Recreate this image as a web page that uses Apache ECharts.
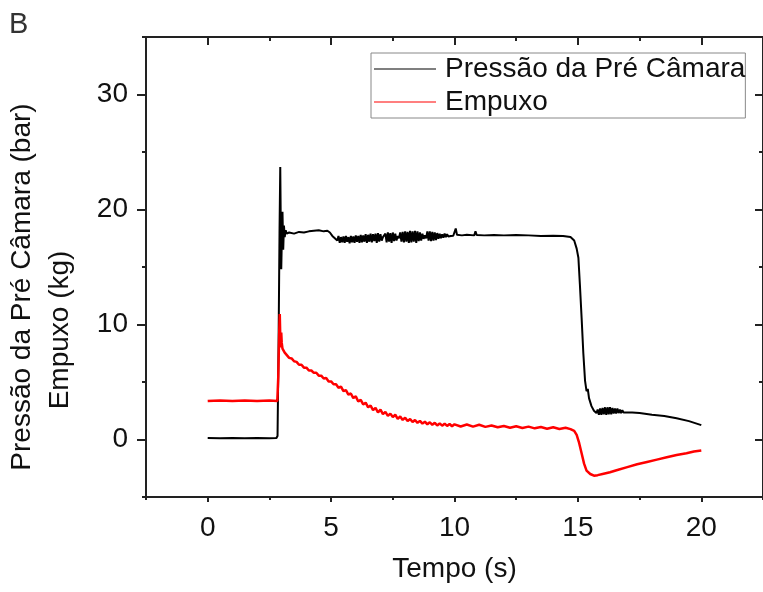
<!DOCTYPE html>
<html>
<head>
<meta charset="utf-8">
<script src="https://cdn.jsdelivr.net/npm/echarts@6/dist/echarts.min.js"></script>
<style>
  html, body { margin: 0; padding: 0; background: #fff; }
  #chart { width: 763px; height: 592px; }
</style>
</head>
<body>
<div id="chart"></div>
<script>
// Tick positions
const xMajorTicks = [0, 5, 10, 15, 20];
const xMinorTicks = [-2.5, 2.5, 7.5, 12.5, 17.5, 22.5];
const yMajorTicks = [0, 10, 20, 30];
const yMinorTicks = [-5, 5, 15, 25, 35];

// Pré-câmara pressure (bar) vs time (s)
const pressao = [
  [0, 0.12], [0.5, 0.1], [1, 0.12], [1.5, 0.1], [2, 0.12], [2.5, 0.1], [2.78, 0.12],
  [2.83, 0.3], [2.87, 8], [2.91, 18], [2.94, 23.7], [2.96, 19], [2.98, 14.8], [3.0, 17],
  [3.03, 19.8], [3.06, 16.5], [3.09, 18.6], [3.12, 17.6], [3.16, 18.2], [3.2, 17.9],
  [3.3, 18.0], [3.5, 17.9], [3.7, 18.05], [3.9, 18.0], [4.1, 18.1], [4.3, 18.15],
  [4.5, 18.2], [4.7, 18.1], [4.85, 18.15], [4.95, 18.0], [5.05, 17.7], [5.15, 17.5],
  [5.25, 17.3],
  [5.30, 17.7], [5.35, 17.1], [5.40, 17.6], [5.45, 17.15], [5.50, 17.65], [5.55, 17.1],
  [5.60, 17.7], [5.65, 17.2], [5.70, 17.6], [5.75, 17.05], [5.80, 17.7], [5.85, 17.15],
  [5.90, 17.65], [5.95, 17.1], [6.00, 17.75], [6.05, 17.2], [6.10, 17.7], [6.15, 17.1],
  [6.20, 17.8], [6.25, 17.15], [6.30, 17.75], [6.35, 17.2], [6.40, 17.85], [6.45, 17.1],
  [6.50, 17.8], [6.55, 17.2], [6.60, 17.9], [6.65, 17.15], [6.70, 17.85], [6.75, 17.25],
  [6.80, 17.9], [6.85, 17.1], [6.90, 17.95], [6.95, 17.2], [7.00, 17.85], [7.05, 17.3],
  [7.10, 17.6], [7.15, 17.45], [7.20, 17.9], [7.25, 17.15], [7.30, 18.0], [7.35, 17.2],
  [7.40, 17.95], [7.45, 17.1], [7.50, 18.0], [7.55, 17.25], [7.60, 17.9], [7.65, 17.3],
  [7.70, 17.7], [7.75, 17.5], [7.80, 18.0], [7.85, 17.2], [7.90, 18.05], [7.95, 17.15],
  [8.00, 18.1], [8.05, 17.2], [8.10, 18.05], [8.15, 17.1], [8.20, 18.15], [8.25, 17.15],
  [8.30, 18.1], [8.35, 17.2], [8.40, 18.15], [8.45, 17.1], [8.50, 18.1], [8.55, 17.25],
  [8.60, 18.0], [8.65, 17.3], [8.70, 17.9], [8.75, 17.45], [8.80, 17.75], [8.85, 17.5],
  [8.90, 18.1], [8.95, 17.3], [9.00, 18.1], [9.05, 17.25], [9.10, 18.05], [9.15, 17.3],
  [9.20, 18.0], [9.25, 17.35], [9.30, 17.95], [9.35, 17.45], [9.40, 17.9], [9.45, 17.5],
  [9.50, 17.85], [9.55, 17.55], [9.60, 17.9], [9.65, 17.6], [9.70, 17.85], [9.75, 17.65],
  [9.80, 17.8], [9.85, 17.7], [9.90, 17.8], [9.95, 17.72],
  [10.0, 17.78], [10.05, 18.35], [10.1, 17.8], [10.3, 17.75], [10.5, 17.8], [10.8, 17.75],
  [10.85, 18.1], [10.9, 17.78], [11.2, 17.75], [11.6, 17.78], [12, 17.75], [12.5, 17.78],
  [13, 17.75], [13.5, 17.7], [14, 17.72], [14.4, 17.7], [14.7, 17.6], [14.85, 17.3],
  [14.95, 16.6], [15.02, 15.8], [15.08, 13.5], [15.15, 10.6], [15.22, 7.5], [15.29, 5.1],
  [15.35, 4.2], [15.4, 4.4], [15.45, 3.6], [15.55, 2.9], [15.65, 2.5], [15.75, 2.3],
  [15.80, 2.6], [15.85, 2.15], [15.90, 2.7], [15.95, 2.15], [16.00, 2.75], [16.05, 2.2],
  [16.10, 2.8], [16.15, 2.15], [16.20, 2.8], [16.25, 2.2], [16.30, 2.8], [16.35, 2.2],
  [16.40, 2.75], [16.45, 2.25], [16.50, 2.7], [16.55, 2.25], [16.60, 2.7], [16.65, 2.3],
  [16.70, 2.6], [16.75, 2.3], [16.80, 2.55], [16.85, 2.35], [16.90, 2.5], [16.95, 2.35],
  [17.0, 2.45], [17.2, 2.35], [17.5, 2.3], [18, 2.15], [18.5, 2.05], [19, 1.85],
  [19.5, 1.6], [20, 1.25]
];

// Thrust (kg) vs time (s)
const empuxo = [
  [0, 3.35], [0.5, 3.4], [1, 3.35], [1.5, 3.4], [2, 3.35], [2.5, 3.4], [2.82, 3.35],
  [2.86, 5.5], [2.9, 9.5], [2.92, 10.9], [2.94, 9.0], [2.96, 8.0], [2.98, 9.3],
  [3.0, 8.4], [3.03, 7.9], [3.07, 7.8], [3.12, 7.55], [3.2, 7.4], [3.3, 7.1],
  [3.4, 7.05], [3.5, 6.8], [3.6, 6.75], [3.7, 6.5], [3.8, 6.5], [3.9, 6.25],
  [4.0, 6.25], [4.1, 6.0], [4.2, 6.0], [4.3, 5.8], [4.4, 5.8], [4.5, 5.55],
  [4.6, 5.55], [4.7, 5.3], [4.8, 5.35], [4.9, 5.05], [5.0, 5.05], [5.1, 4.8],
  [5.2, 4.8], [5.3, 4.5], [5.4, 4.6], [5.5, 4.2], [5.6, 4.3], [5.7, 3.9], [5.8, 4.0],
  [5.9, 3.6], [6.0, 3.75], [6.1, 3.3], [6.2, 3.45], [6.3, 3.05], [6.4, 3.2], [6.5, 2.8],
  [6.6, 2.95], [6.7, 2.55], [6.8, 2.75], [6.9, 2.35], [7.0, 2.6], [7.1, 2.2], [7.2, 2.4],
  [7.3, 2.05], [7.4, 2.25], [7.5, 1.95], [7.6, 2.15], [7.7, 1.8], [7.8, 2.0], [7.9, 1.7],
  [8.0, 1.9], [8.1, 1.6], [8.2, 1.78], [8.3, 1.52], [8.4, 1.7], [8.5, 1.45], [8.6, 1.62],
  [8.7, 1.38], [8.8, 1.55], [8.9, 1.32], [9.0, 1.5], [9.1, 1.28], [9.2, 1.45], [9.3, 1.22],
  [9.4, 1.4], [9.5, 1.2], [9.6, 1.38], [9.7, 1.18], [9.8, 1.35], [9.9, 1.15], [10.0, 1.32],
  [10.25, 1.13], [10.5, 1.3], [10.75, 1.12], [11.0, 1.28], [11.25, 1.1], [11.5, 1.22],
  [11.75, 1.06], [12.0, 1.18], [12.25, 1.02], [12.5, 1.15], [12.75, 1.0], [13.0, 1.12],
  [13.25, 0.97], [13.5, 1.08], [13.75, 0.94], [14.0, 1.06], [14.25, 0.92], [14.5, 1.02],
  [14.7, 0.9], [14.85, 0.75], [14.95, 0.4], [15.05, -0.3], [15.15, -1.2], [15.25, -2.1],
  [15.35, -2.7], [15.5, -3.0], [15.65, -3.15], [15.8, -3.1], [16.0, -3.0], [16.3, -2.85],
  [16.6, -2.65], [17.0, -2.4], [17.4, -2.15], [17.8, -1.95], [18.2, -1.75], [18.6, -1.55],
  [19.0, -1.35], [19.4, -1.2], [19.7, -1.05], [20.0, -0.95]
];

const FONT = 'Liberation Sans, Arial, sans-serif';
const AXIS_COLOR = '#222';
const FS = 28;

function frameAxis(extra) {
  return Object.assign({
    type: 'value',
    splitLine: { show: false },
    axisLine: { show: false, onZero: false, lineStyle: { color: AXIS_COLOR, width: 2 } },
    axisLabel: { show: false },
    axisTick: { show: true, lineStyle: { color: AXIS_COLOR, width: 2 } }
  }, extra);
}

const xRange = { min: -2.5, max: 22.5 };
const yRange = { min: -5, max: 35 };

const chart = echarts.init(document.getElementById('chart'), null, { renderer: 'canvas' });

chart.setOption({
  animation: false,
  backgroundColor: '#fff',
  textStyle: { fontFamily: FONT },
  grid: { left: 146, top: 37, width: 619, height: 460, containLabel: false },
  legend: {
    left: 371,
    top: 53,
    orient: 'vertical',
    icon: 'rect',
    itemWidth: 62,
    itemHeight: 1,
    itemGap: 5,
    padding: [2, 0, 2, 3],
    borderColor: '#888',
    borderWidth: 1,
    backgroundColor: '#fff',
    textStyle: { fontFamily: FONT, fontSize: FS, color: '#111', padding: [0, 0, 0, 4] },
    data: ['Pressão da Pré Câmara', 'Empuxo']
  },
  xAxis: [
    frameAxis(Object.assign({
      position: 'bottom',
      axisLine: { show: true, onZero: false, lineStyle: { color: AXIS_COLOR, width: 2 } },
      axisTick: { show: true, length: 5, customValues: xMajorTicks, lineStyle: { color: AXIS_COLOR, width: 2 } },
      axisLabel: { show: true, customValues: xMajorTicks, fontSize: FS, color: '#111', margin: 17, fontFamily: FONT },
      name: 'Tempo (s)',
      nameLocation: 'middle',
      nameGap: 58,
      nameTextStyle: { fontSize: FS, color: '#111', fontFamily: FONT }
    }, xRange)),
    frameAxis(Object.assign({
      position: 'bottom',
      axisTick: { show: true, length: 3, customValues: xMinorTicks, lineStyle: { color: AXIS_COLOR, width: 2 } }
    }, xRange)),
    frameAxis(Object.assign({
      position: 'top',
      axisLine: { show: true, onZero: false, lineStyle: { color: AXIS_COLOR, width: 2 } },
      axisTick: { show: true, inside: true, length: 8, customValues: xMajorTicks, lineStyle: { color: AXIS_COLOR, width: 2 } }
    }, xRange)),
    frameAxis(Object.assign({
      position: 'top',
      axisTick: { show: true, inside: true, length: 4, customValues: xMinorTicks, lineStyle: { color: AXIS_COLOR, width: 2 } }
    }, xRange))
  ],
  yAxis: [
    frameAxis(Object.assign({
      position: 'left',
      axisLine: { show: true, onZero: false, lineStyle: { color: AXIS_COLOR, width: 2 } },
      axisTick: { show: true, length: 9, customValues: yMajorTicks, lineStyle: { color: AXIS_COLOR, width: 2 } },
      axisLabel: { show: true, customValues: yMajorTicks, fontSize: FS, color: '#111', margin: 18, fontFamily: FONT }
    }, yRange)),
    frameAxis(Object.assign({
      position: 'left',
      axisTick: { show: true, length: 4, customValues: yMinorTicks, lineStyle: { color: AXIS_COLOR, width: 2 } }
    }, yRange)),
    frameAxis(Object.assign({
      position: 'right',
      axisLine: { show: true, onZero: false, lineStyle: { color: AXIS_COLOR, width: 2 } },
      axisTick: { show: true, inside: true, length: 8, customValues: yMajorTicks, lineStyle: { color: AXIS_COLOR, width: 2 } }
    }, yRange)),
    frameAxis(Object.assign({
      position: 'right',
      axisTick: { show: true, inside: true, length: 4, customValues: yMinorTicks, lineStyle: { color: AXIS_COLOR, width: 2 } }
    }, yRange))
  ],
  series: [
    {
      name: 'Pressão da Pré Câmara',
      type: 'line',
      data: pressao,
      xAxisIndex: 0,
      yAxisIndex: 0,
      symbol: 'none',
      color: '#000',
      lineStyle: { color: '#000', width: 2 }
    },
    {
      name: 'Empuxo',
      type: 'line',
      data: empuxo,
      xAxisIndex: 0,
      yAxisIndex: 0,
      symbol: 'none',
      color: '#ff0000',
      lineStyle: { color: '#ff0000', width: 2.5 }
    }
  ],
  graphic: [
    {
      type: 'text', left: 9, top: 10,
      style: { text: 'B', font: '29px ' + FONT, fill: '#333' }
    },
    {
      type: 'text', x: 22, y: 287, rotation: Math.PI / 2,
      style: { text: 'Pressão da Pré Câmara (bar)', font: FS + 'px ' + FONT, fill: '#111', align: 'center', verticalAlign: 'middle' }
    },
    {
      type: 'text', x: 60, y: 330, rotation: Math.PI / 2,
      style: { text: 'Empuxo (kg)', font: FS + 'px ' + FONT, fill: '#111', align: 'center', verticalAlign: 'middle' }
    }
  ]
});
</script>
</body>
</html>
